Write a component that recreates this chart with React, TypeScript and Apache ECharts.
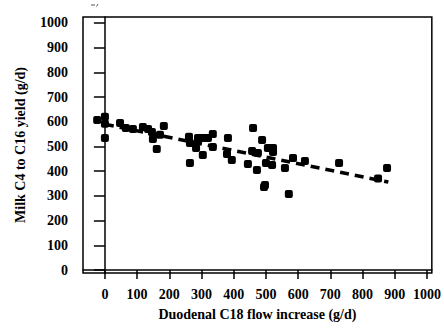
import React, { useEffect, useRef } from "react";
import * as echarts from "echarts";

const xTicks = [0, 100, 200, 300, 400, 500, 600, 700, 800, 900, 1000];
const yTicks = [0, 100, 200, 300, 400, 500, 600, 700, 800, 900, 1000];

const flowIncrease = [
  -24, 0, 0, 0, 47, 65, 87, 118, 134, 146, 149, 161, 171, 183,
  261, 264, 264, 283, 289, 304, 304, 320, 335, 335, 379, 382, 394,
  444, 457, 460, 472, 475, 488, 494, 497, 500, 506, 519, 522, 522,
  559, 571, 584, 621, 727, 848, 876,
];
const milkYield = [
  607, 620, 592, 534, 595, 575, 571, 579, 571, 559, 530, 490, 547, 583,
  539, 514, 433, 494, 534, 466, 534, 534, 551, 498, 470, 534, 445,
  429, 482, 575, 405, 474, 526, 336, 344, 433, 494, 425, 494, 478,
  413, 308, 453, 441, 433, 370, 413,
];

const fitX = [0, 880];
const fitY = [590, 356];

const FONT = "'Liberation Serif', 'Times New Roman', serif";

export default function App() {
  const ref = useRef<HTMLDivElement>(null);
  useEffect(() => {
    const chart = echarts.init(ref.current!, null, { renderer: "svg" });
    const points = flowIncrease.map((x, i) => [x, milkYield[i]]);
    const fit = fitX.map((x, i) => [x, fitY[i]]);
    const labelStyle = {
      color: "#000",
      fontFamily: FONT,
      fontWeight: "bold",
      fontSize: 14,
      formatter: (v: number) => String(v),
    };
    chart.setOption({
      animation: false,
      backgroundColor: "#ffffff",
      grid: {
        left: 83,
        top: 17,
        right: 12,
        bottom: 60,
        show: true,
        borderColor: "#000",
        borderWidth: 1.5,
        backgroundColor: "transparent",
      },
      graphic: [
        {
          type: "line",
          shape: { x1: 91, y1: 5, x2: 95, y2: 5 },
          style: { stroke: "#555", lineWidth: 1 },
        },
        {
          type: "line",
          shape: { x1: 96.5, y1: 6.5, x2: 98, y2: 4 },
          style: { stroke: "#555", lineWidth: 1 },
        },
      ],
      xAxis: {
        type: "value",
        min: -68,
        max: 1015,
        splitLine: { show: false },
        axisLine: { show: true, lineStyle: { color: "#000", width: 1.5 } },
        axisTick: {
          show: true,
          inside: false,
          length: 9,
          customValues: xTicks,
          lineStyle: { color: "#000", width: 1.5 },
        },
        axisLabel: { ...labelStyle, customValues: xTicks, margin: 14 },
        name: "Duodenal C18 flow increase (g/d)",
        nameLocation: "middle",
        nameGap: 34,
        nameTextStyle: {
          color: "#000",
          fontFamily: FONT,
          fontWeight: "bold",
          fontSize: 14,
        },
      },
      yAxis: {
        type: "value",
        min: -12,
        max: 1024,
        splitLine: { show: false },
        axisLine: { show: true, lineStyle: { color: "#000", width: 1.5 } },
        axisTick: {
          show: true,
          inside: false,
          length: 11,
          customValues: yTicks,
          lineStyle: { color: "#000", width: 1.5 },
        },
        axisLabel: { ...labelStyle, customValues: yTicks, margin: 15 },
        name: "Milk C4 to C16 yield (g/d)",
        nameLocation: "middle",
        nameRotate: 90,
        nameGap: 56,
        nameTextStyle: {
          color: "#000",
          fontFamily: FONT,
          fontWeight: "bold",
          fontSize: 14,
        },
      },
      series: [
        {
          type: "line",
          data: fit,
          symbol: "none",
          lineStyle: { color: "#000", width: 3.5, type: [9, 6] },
          z: 2,
        },
        {
          type: "scatter",
          data: points,
          symbol: "roundRect",
          symbolSize: 8,
          itemStyle: { color: "#000", opacity: 1 },
          z: 3,
        },
      ],
    });
    return () => chart.dispose();
  }, []);
  return <div ref={ref} style={{ width: 444, height: 333, position: "absolute", left: 0, top: 0 }} />;
}
